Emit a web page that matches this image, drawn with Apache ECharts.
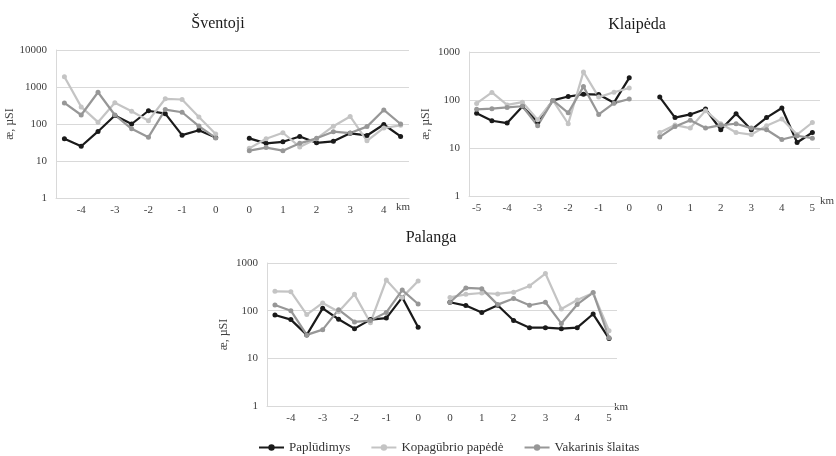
<!DOCTYPE html>
<html><head><meta charset="utf-8">
<script src="https://cdn.jsdelivr.net/npm/echarts@6/dist/echarts.min.js"></script>
<style>html,body{margin:0;padding:0;background:#fff}#c{width:836px;height:456px}</style>
</head><body><div id="c"></div>
<script>
// ---- categories (km) ----
const svKmLeft = ['-4.5','-4','-3.5','-3','-2.5','-2','-1.5','-1','-0.5','0'];
const svKmRight = ['0','0.5','1','1.5','2','2.5','3','3.5','4','4.5'];
const klKmLeft = ['-5','-4.5','-4','-3.5','-3','-2.5','-2','-1.5','-1','-0.5','0'];
const klKmRight = ['0','0.5','1','1.5','2','2.5','3','3.5','4','4.5','5'];
const paKmLeft = ['-4.5','-4','-3.5','-3','-2.5','-2','-1.5','-1','-0.5','0'];
const paKmRight = ['0','0.5','1','1.5','2','2.5','3','3.5','4','4.5','5'];

// ---- series names ----
const seriesNames = ['Paplūdimys', 'Kopagūbrio papėdė', 'Vakarinis šlaitas'];

// ---- Šventoji ----
const svPapL = [40, 25, 63, 170, 100, 228, 190, 50, 68, 43];
const svPapR = [41, 30, 33, 46, 31, 34, 56, 49, 97, 46];
const svKopL = [1900, 290, 112, 375, 220, 123, 480, 460, 155, 54];
const svKopR = [22, 40, 58, 24, 40, 87, 160, 35, 78, 92];
const svVakL = [370, 175, 720, 175, 74, 44, 245, 208, 88, 42];
const svVakR = [19, 23, 19, 30, 41, 62, 57, 85, 240, 100];

// ---- Klaipėda ----
const klPapL = [53, 37, 33, 73, 35, 98, 118, 132, 130, 88, 290];
const klPapR = [115, 43, 50, 65, 24, 52, 24, 43, 68, 13, 21];
const klKopL = [85, 144, 79, 90, 39, 98, 32, 385, 115, 145, 178];
const klKopR = [21, 30, 26, 60, 32, 21, 19, 29, 40, 19, 34];
const klVakL = [64, 66, 70, 74, 29, 98, 54, 190, 50, 86, 105];
const klVakR = [17, 28, 38, 26, 30, 32, 26, 24, 15, 18, 16];

// ---- Palanga ----
const paPapL = [81, 65, 31, 112, 66, 42, 65, 70, 190, 45];
const paPapR = [150, 128, 92, 130, 62, 44, 44, 42, 44, 85, 26];
const paKopL = [255, 250, 83, 145, 95, 220, 56, 440, 190, 420];
const paKopR = [190, 220, 235, 225, 244, 330, 600, 108, 168, 235, 38];
const paVakL = [132, 100, 31, 40, 105, 58, 62, 92, 270, 138];
const paVakR = [150, 300, 290, 134, 180, 130, 150, 54, 135, 240, 27];

const titles = ['Šventoji', 'Klaipėda', 'Palanga'];
const yMax = [10000, 1000, 1000];
const yName = 'æ, µSI';

const FONT = '"Liberation Serif", "Times New Roman", serif';
const colors = ['#1a1a1a', '#c4c4c4', '#979797'];
const gridColor = '#d9d9d9';

const panels = [
  {cats: svKmLeft.concat([''], svKmRight), data: [[svPapL, svPapR], [svKopL, svKopR], [svVakL, svVakR]]},
  {cats: klKmLeft.concat([''], klKmRight), data: [[klPapL, klPapR], [klKopL, klKopR], [klVakL, klVakR]]},
  {cats: paKmLeft.concat([''], paKmRight), data: [[paPapL, paPapR], [paKopL, paKopR], [paVakL, paVakR]]}
];

const grids = [
  {left: 56, top: 50, width: 353, height: 148},
  {left: 469, top: 52, width: 351, height: 144},
  {left: 267, top: 263, width: 350, height: 143}
];

const xAxes = panels.map((p, i) => ({
  type: 'category', gridIndex: i, data: p.cats, boundaryGap: true,
  axisTick: {show: false},
  axisLine: {lineStyle: {color: gridColor, width: 1}},
  axisLabel: {
    interval: (idx, v) => v !== '' && v.indexOf('.') < 0,
    fontFamily: FONT, fontSize: 11, color: '#404040', margin: 7
  },
  splitLine: {show: false}
}));

const yAxes = panels.map((p, i) => ({
  type: 'log', logBase: 10, gridIndex: i, min: 1, max: yMax[i],
  axisLine: {show: true, lineStyle: {color: gridColor, width: 1}},
  axisTick: {show: false},
  splitLine: {show: true, lineStyle: {color: gridColor, width: 1}},
  axisLabel: {fontFamily: FONT, fontSize: 11, color: '#404040', margin: 9,
    formatter: v => String(Math.round(v))},
  name: yName, nameLocation: 'middle', nameGap: 37,
  nameTextStyle: {fontFamily: FONT, fontSize: 12, color: '#404040'}
}));

const series = [];
panels.forEach((p, i) => {
  p.data.forEach((pair, s) => {
    series.push({
      name: seriesNames[s], type: 'line', xAxisIndex: i, yAxisIndex: i,
      data: pair[0].concat(['-'], pair[1]),
      connectNulls: false,
      symbol: 'circle', symbolSize: 5,
      lineStyle: {color: colors[s], width: 2.2},
      itemStyle: {color: colors[s]},
      emphasis: {disabled: true},
      animation: false
    });
  });
});

const option = {
  animation: false,
  backgroundColor: '#fff',
  title: [
    {text: titles[0], left: 213, top: 11, textAlign: 'center', textStyle: {fontFamily: FONT, fontSize: 16, fontWeight: 'normal', color: '#1a1a1a'}},
    {text: titles[1], left: 632, top: 12, textAlign: 'center', textStyle: {fontFamily: FONT, fontSize: 16, fontWeight: 'normal', color: '#1a1a1a'}},
    {text: titles[2], left: 426, top: 225, textAlign: 'center', textStyle: {fontFamily: FONT, fontSize: 16, fontWeight: 'normal', color: '#1a1a1a'}}
  ],
  grid: grids,
  xAxis: xAxes,
  yAxis: yAxes,
  legend: {
    data: seriesNames, left: 253, top: 441, itemWidth: 25, itemHeight: 8, itemGap: 20,
    padding: [0, 5, 0, 5],
    textStyle: {fontFamily: FONT, fontSize: 13, color: '#333'}
  },
  graphic: [
    {type: 'text', left: 396, top: 202, style: {text: 'km', font: '11px ' + FONT, fill: '#404040'}},
    {type: 'text', left: 820, top: 196, style: {text: 'km', font: '11px ' + FONT, fill: '#404040'}},
    {type: 'text', left: 614, top: 402, style: {text: 'km', font: '11px ' + FONT, fill: '#404040'}}
  ],
  series: series
};

const chart = echarts.init(document.getElementById('c'), null, {renderer: 'canvas'});
chart.setOption(option);
</script></body></html>
